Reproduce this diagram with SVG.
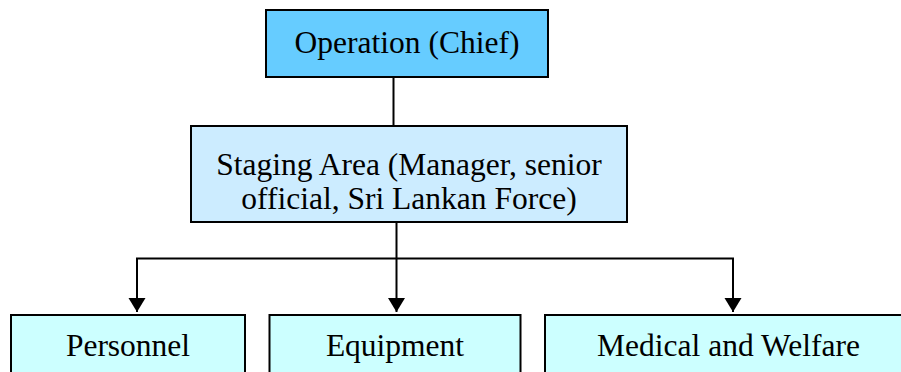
<svg xmlns="http://www.w3.org/2000/svg" width="901" height="372" viewBox="0 0 901 372">
  <style>
    .box { stroke: #000; stroke-width: 2; }
    .lbl { font-family: 'Liberation Serif', 'Times New Roman', Times, 'DejaVu Serif', serif; font-size: 31.5px; fill: #000; text-anchor: middle; }
    .wire { fill: none; stroke: #000; stroke-width: 2; }
  </style>
  <defs>
    <!-- solid triangular arrowhead, tip at the path end -->
    <marker id="arrow" markerUnits="userSpaceOnUse" markerWidth="15" markerHeight="18" refX="14" refY="8.5" orient="auto">
      <path d="M0,0 L14,8.5 L0,17 Z" fill="#000"/>
    </marker>
  </defs>
  <rect width="901" height="372" fill="#fff"/>

  <g id="connectors">
    <line class="wire" x1="393.5" y1="77" x2="393.5" y2="126"/>
    <line class="wire" x1="396.5" y1="222" x2="396.5" y2="259"/>
    <polyline class="wire" points="137,297 137,258.5 733,258.5 733,297"/>
    <path class="wire" d="M137,258.5 V312" marker-end="url(#arrow)"/>
    <path class="wire" d="M396.5,258.5 V312" marker-end="url(#arrow)"/>
    <path class="wire" d="M733,258.5 V312" marker-end="url(#arrow)"/>
  </g>

  <g id="operation-chief">
    <rect class="box" x="266" y="10" width="282" height="67" fill="#66CCFF"/>
    <text class="lbl" x="407" y="53">Operation (Chief)</text>
  </g>

  <g id="staging-area">
    <rect class="box" x="191" y="126" width="436" height="96" fill="#CCECFF"/>
    <text class="lbl" x="409" y="175">Staging Area (Manager, senior</text>
    <text class="lbl" x="409" y="209">official, Sri Lankan Force)</text>
  </g>

  <g id="personnel">
    <rect class="box" x="11" y="315" width="234" height="70" fill="#CCFFFF"/>
    <text class="lbl" x="128" y="356">Personnel</text>
  </g>

  <g id="equipment">
    <rect class="box" x="269.5" y="315" width="251" height="70" fill="#CCFFFF"/>
    <text class="lbl" x="395" y="356">Equipment</text>
  </g>

  <g id="medical-welfare">
    <rect class="box" x="545" y="315" width="368" height="70" fill="#CCFFFF"/>
    <text class="lbl" x="728.5" y="356">Medical and Welfare</text>
  </g>
</svg>
